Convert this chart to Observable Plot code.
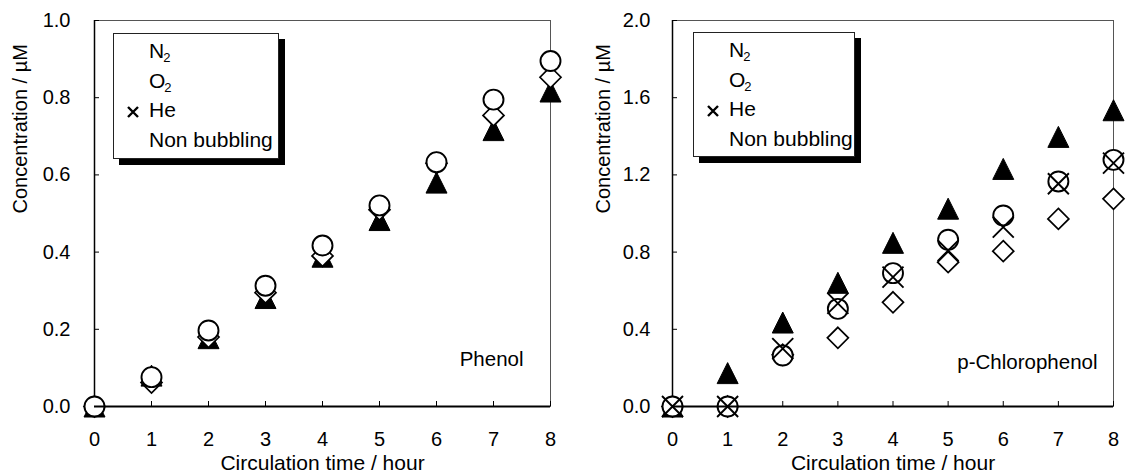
<!DOCTYPE html>
<html><head><meta charset="utf-8">
<script src="https://cdn.jsdelivr.net/npm/d3@7"></script>
<script src="https://cdn.jsdelivr.net/npm/@observablehq/plot@0.6"></script>
<style>
body{margin:0;background:#fff;font-family:"Liberation Sans",Arial,sans-serif;}
#wrap{position:relative;width:1136px;height:476px;display:flex;}
.panel{position:relative;width:568px;height:476px;}
.panel svg{display:block;}
.legend{position:absolute;box-sizing:border-box;border:1px solid #222;background:#fff;box-shadow:6px 6px 0 #000;font-size:21px;color:#000;}
.legend .row{position:absolute;white-space:nowrap;line-height:20px;}
.legend sub{font-size:13px;vertical-align:baseline;position:relative;top:4px;margin-left:-1px;}
.legend svg{position:absolute;overflow:visible;}
</style></head><body><div id="wrap"></div><script>
// ---- data ----
const hours = [0, 1, 2, 3, 4, 5, 6, 7, 8];
const seriesNames = ["N2", "O2", "He", "Non bubbling"];
const legendLabels = ["N<sub>2</sub>", "O<sub>2</sub>", "He", "Non bubbling"];

// Phenol (He markers are not visible in the reference panel)
const phenolN2 = [0, 0.080, 0.177, 0.281, 0.388, 0.483, 0.580, 0.716, 0.816];
const phenolO2 = [0, 0.062, 0.180, 0.295, 0.390, 0.510, 0.630, 0.754, 0.853];
const phenolHe = null;
const phenolNon = [0, 0.076, 0.197, 0.313, 0.417, 0.521, 0.633, 0.795, 0.895];

// p-Chlorophenol
const cpN2 = [0, 0.173, 0.435, 0.641, 0.848, 1.025, 1.231, 1.397, 1.535];
const cpO2 = [0, 0, 0.268, 0.356, 0.540, 0.748, 0.805, 0.972, 1.076];
const cpHe = [0, 0, 0.300, 0.534, 0.670, 0.808, 0.929, 1.154, 1.261];
const cpNon = [0, 0, 0.264, 0.506, 0.691, 0.864, 0.990, 1.166, 1.278];

const phenolYTicks = [0, 0.2, 0.4, 0.6, 0.8, 1.0];
const cpYTicks = [0, 0.4, 0.8, 1.2, 1.6, 2.0];

const xTitle = "Circulation time / hour";
const yTitle = "Concentration / µM";

// ---- symbols ----
const symTriangle = {draw(ctx, size){const h=Math.sqrt(size/Math.PI);ctx.moveTo(0,-h);ctx.lineTo(h,h);ctx.lineTo(-h,h);ctx.closePath();}};
const symDiamond = {draw(ctx, size){const h=Math.sqrt(size/Math.PI);ctx.moveTo(0,-h);ctx.lineTo(h,0);ctx.lineTo(0,h);ctx.lineTo(-h,0);ctx.closePath();}};
const symX = {draw(ctx, size){const h=Math.sqrt(size/Math.PI);ctx.moveTo(-h,-h);ctx.lineTo(h,h);ctx.moveTo(h,-h);ctx.lineTo(-h,h);}};

function rows(vals){return vals ? hours.map((h,i)=>({hour:h, value:vals[i]})) : [];}

function panel(cfg){
  const W = 568, H = 476, mt = 20, mb = 70;
  const fw = W - cfg.ml - cfg.mr, fh = H - mt - mb;
  const font = '"Liberation Sans", Arial, sans-serif';
  const tri = Plot.dot(rows(cfg.data[0]), {x: "hour", y: "value", symbol: symTriangle, r: 10.5, fill: "#000", stroke: "#000", strokeWidth: 1});
  const dia = Plot.dot(rows(cfg.data[1]), {x: "hour", y: "value", symbol: symDiamond, r: 10.5, fill: "#fff", stroke: "#000", strokeWidth: 1.7});
  const cir = Plot.dot(rows(cfg.data[3]), {x: "hour", y: "value", symbol: "circle", r: 10, fill: "#fff", stroke: "#000", strokeWidth: 1.9});
  const xs = Plot.dot(rows(cfg.data[2]), {x: "hour", y: "value", symbol: symX, r: 10.5, fill: "none", stroke: "#000", strokeWidth: 1.9});
  const chart = Plot.plot({
    width: W, height: H,
    marginLeft: cfg.ml, marginRight: cfg.mr, marginTop: mt, marginBottom: mb,
    style: {fontFamily: font, fontSize: "20px", color: "#000", background: "#fff", overflow: "visible"},
    x: {domain: [0, 8], axis: null},
    y: {domain: [0, cfg.yTicks[cfg.yTicks.length-1]], axis: null},
    marks: [
      Plot.frame({stroke: "#555", strokeWidth: 1}),
      Plot.ruleX([0], {stroke: "#000", strokeWidth: 1.5}),
      Plot.tickX(hours, {x: d => d, insetTop: fh - 5, stroke: "#000", strokeWidth: 1}),
      Plot.tickY(cfg.yTicks, {y: d => d, insetRight: fw - 5, stroke: "#000", strokeWidth: 1}),
      Plot.axisX(hours, {tickSize: 0, tickPadding: 25, label: null, fontSize: 20, tickFormat: d => String(d)}),
      Plot.axisY(cfg.yTicks, {tickSize: 0, tickPadding: cfg.tp, label: null, fontSize: 20, tickFormat: d3.format(".1f")}),
      Plot.text([xTitle], {frameAnchor: "bottom", dy: 57, lineAnchor: "middle", fontSize: 21, text: d => d}),
      Plot.text([yTitle], {frameAnchor: "left", dx: cfg.ytdx, rotate: -90, lineAnchor: "middle", fontSize: 20, text: d => d}),
      Plot.text([cfg.name], {frameAnchor: "bottom-right", dx: cfg.ndx, dy: cfg.ndy, textAnchor: "end", lineAnchor: "middle", fontSize: 20.5, text: d => d}),
      tri, dia, cir, xs,
      Plot.ruleY([0], {stroke: "#000", strokeWidth: 2})
    ]
  });
  const div = document.createElement("div");
  div.className = "panel";
  div.appendChild(chart);
  // legend
  const lg = document.createElement("div");
  lg.className = "legend";
  lg.style.left = cfg.lg.left + "px"; lg.style.top = cfg.lg.top + "px";
  lg.style.width = cfg.lg.w + "px"; lg.style.height = cfg.lg.h + "px";
  legendLabels.forEach((lab, i) => {
    const r = document.createElement("div");
    r.className = "row";
    r.style.left = "35px";
    r.style.top = (7 + i * 29.5) + "px";
    r.innerHTML = lab;
    lg.appendChild(r);
    if (seriesNames[i] === "He") {
      const s = document.createElementNS("http://www.w3.org/2000/svg", "svg");
      s.setAttribute("width", 12); s.setAttribute("height", 12);
      s.style.left = "13px"; s.style.top = (7 + i * 29.5 + 6) + "px";
      s.innerHTML = '<path d="M1,1L11,11M11,1L1,11" stroke="#000" stroke-width="2.4"/>';
      lg.appendChild(s);
    }
  });
  div.appendChild(lg);
  return div;
}

const wrap = document.getElementById("wrap");
wrap.appendChild(panel({ml: 94, mr: 18, tp: 24, ytdx: -74, yTicks: phenolYTicks,
  data: [phenolN2, phenolO2, phenolHe, phenolNon], name: "Phenol", ndx: -27, ndy: -47,
  lg: {left: 113, top: 33, w: 166, h: 126}}));
wrap.appendChild(panel({ml: 104, mr: 23, tp: 22, ytdx: -69, yTicks: cpYTicks,
  data: [cpN2, cpO2, cpHe, cpNon], name: "p-Chlorophenol", ndx: -16, ndy: -44,
  lg: {left: 125, top: 32, w: 162, h: 125}}));
</script></body></html>
